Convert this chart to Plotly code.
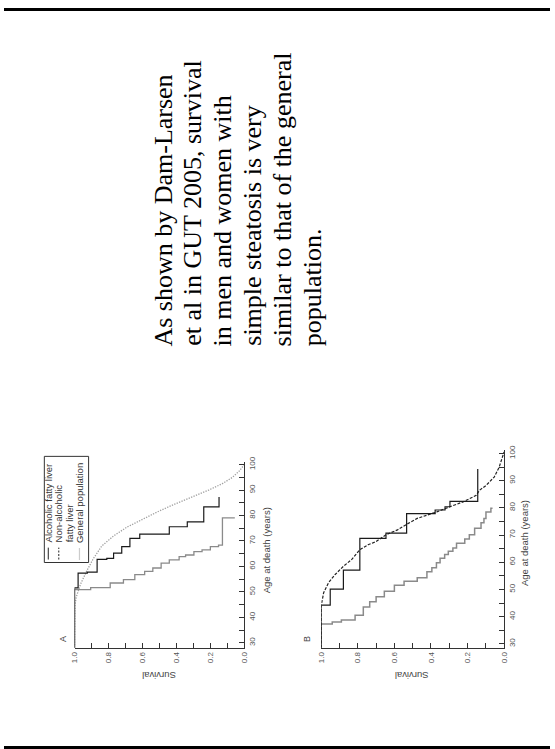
import plotly.graph_objects as go

W, H = 555, 749


def px(x):
    return x / W


def py(y):
    return 1 - y / H


# ---------------- data (survival vs age at death) ----------------
# Panel A
A_alc_age = [28, 50.9, 51.7, 53.5, 54.8, 56.8, 58.1, 59.4, 61.3, 62.6, 63.9, 64.5, 65.8, 66.5, 67.8, 68.4, 79.1]
A_alc_surv = [1.0, 0.905, 0.79, 0.712, 0.645, 0.587, 0.539, 0.49, 0.442, 0.384, 0.346, 0.297, 0.249, 0.20, 0.152, 0.129, 0.056]

A_naf_age = [28, 51.6, 57.4, 57.8, 62.8, 63.2, 65.2, 67.8, 71.0, 72.7, 75.6, 77.5, 83.4, 87.3]
A_naf_surv = [1.0, 0.979, 0.925, 0.867, 0.81, 0.77, 0.722, 0.674, 0.616, 0.442, 0.336, 0.239, 0.149, 0.149]

A_gen_age = [28, 42, 45, 48, 53, 58, 63, 68, 72, 75.5, 78.5, 81.5, 84.5, 87.5, 90, 92.5, 95, 97.5, 100]
A_gen_surv = [1.0, 1.0, 0.997, 0.99, 0.965, 0.93, 0.89, 0.84, 0.77, 0.69, 0.60, 0.51, 0.41, 0.30, 0.21, 0.13, 0.07, 0.03, 0.0]

# Panel B
B_alc_age = [28.5, 37.3, 38.0, 38.8, 40.5, 43.5, 45.5, 47.3, 49.3, 51.5, 53.0, 54.3, 56.5, 58.0, 59.8, 61.5, 62.8, 64.0,
             65.2, 67.0, 68.5, 70.1, 72.5, 74.5, 76.1, 78.5, 79.8]
B_alc_surv = [1.0, 0.94, 0.89, 0.815, 0.77, 0.735, 0.70, 0.655, 0.60, 0.547, 0.475, 0.422, 0.395, 0.37, 0.35, 0.325,
              0.305, 0.28, 0.26, 0.215, 0.19, 0.161, 0.126, 0.11, 0.099, 0.072, 0.063]

B_naf_age = [28.5, 44.2, 50.1, 57.1, 68.8, 70.7, 77.9, 79.2, 80.4, 82.4, 94.3]
B_naf_surv = [1.0, 0.951, 0.879, 0.789, 0.646, 0.533, 0.377, 0.323, 0.296, 0.144, 0.144]

B_gen_age = [28.5, 44.2, 48.8, 52.5, 55.5, 58.5, 61, 64.6, 66.4, 67.6, 70.1, 71.9, 74.1, 76.1, 77.3, 78.5, 80.4, 82.2,
             84.6, 86.4, 88.2, 91.3, 94.9, 99.2, 100.5]
B_gen_surv = [1.0, 1.0, 0.987, 0.96, 0.924, 0.879, 0.834, 0.789, 0.744, 0.70, 0.646, 0.583, 0.529, 0.475, 0.422, 0.368,
              0.296, 0.224, 0.152, 0.135, 0.099, 0.054, 0.027, 0.005, 0.0]

SURV_TICKS = [1.0, 0.8, 0.6, 0.4, 0.2, 0.0]
SURV_LABELS = ["1.0", "0.8", "0.6", "0.4", "0.2", "0.0"]
SURV_MINOR = [0.9, 0.7, 0.5, 0.3, 0.1]
AGE_TICKS = [30, 40, 50, 60, 70, 80, 90, 100]
AGE_LABELS = ["30", "40", "50", "60", "70", "80", "90", "100"]
AGE_MINOR = [35, 45, 55, 65, 75, 85, 95]

LEGEND_LABELS = ["Alcoholic fatty liver", "Non-alcoholic", "fatty liver", "General population"]
TEXT_LINES = [
    "As shown by Dam-Larsen",
    "et al in GUT 2005, survival",
    "in men and women with",
    "simple steatosis is very",
    "similar to that of the general",
    "population.",
]

# ---------------- figure ----------------
fig = go.Figure()


def add_curve(surv, age, xa, ya, color, width, dash="solid", shape="vh"):
    fig.add_trace(go.Scatter(
        x=surv, y=age, xaxis=xa, yaxis=ya, mode="lines",
        line=dict(color=color, width=width, dash=dash, shape=shape),
        hoverinfo="skip", showlegend=False))


GRAY = "#8a8a8a"
BLACK = "#1a1a1a"
add_curve(A_gen_surv, A_gen_age, "x", "y", "#a0a0a0", 1.3, "1.3px,1.3px", "linear")
add_curve(A_alc_surv, A_alc_age, "x", "y", GRAY, 1.3)
add_curve(A_naf_surv, A_naf_age, "x", "y", BLACK, 1.2)

add_curve(B_alc_surv, B_alc_age, "x2", "y2", GRAY, 1.5)
add_curve(B_gen_surv, B_gen_age, "x2", "y2", "#222222", 1.2, "3px,1.5px", "linear")
add_curve(B_naf_surv, B_naf_age, "x2", "y2", BLACK, 1.2)

tickfont = dict(family="Liberation Sans, Arial, sans-serif", size=8, color="#555555")


def xaxis(domain, anchor):
    return dict(domain=domain, anchor=anchor, range=[1.0, 0.0], showline=True, linecolor="#333333",
                linewidth=1, ticks="inside", ticklen=5, tickcolor="#333333", tickwidth=1,
                tickmode="array", tickvals=SURV_TICKS, ticktext=SURV_LABELS, tickangle=-90,
                tickfont=tickfont, showgrid=False, zeroline=False, fixedrange=True,
                minor=dict(tickmode="array", tickvals=SURV_MINOR, ticks="inside", ticklen=5,
                           tickcolor="#333333", tickwidth=1, showgrid=False))


def yaxis(domain, anchor, rng):
    return dict(domain=domain, anchor=anchor, range=rng, side="right", showline=True,
                linecolor="#333333", linewidth=1, ticks="inside", ticklen=5, tickcolor="#333333",
                tickwidth=1, tickmode="array", tickvals=AGE_TICKS, ticktext=AGE_LABELS, tickangle=-90,
                tickfont=tickfont, showgrid=False, zeroline=False, fixedrange=True,
                minor=dict(tickmode="array", tickvals=AGE_MINOR, ticks="inside", ticklen=5,
                           tickcolor="#333333", tickwidth=1, showgrid=False))


fig.update_layout(
    width=W, height=H, margin=dict(l=0, r=0, t=0, b=0),
    paper_bgcolor="white", plot_bgcolor="white", showlegend=False,
    xaxis=xaxis([px(71.7), px(244.3)], "y"),
    yaxis=yaxis([py(647), py(460)], "x", [28.05, 100.9]),
    xaxis2=xaxis([px(322.5), px(508.3)], "y2"),
    yaxis2=yaxis([py(647), py(448)], "x2", [28.54, 101.1]),
)

ann = []
lab_font = dict(family="Liberation Sans, Arial, sans-serif", size=9.5, color="#444444")
# axis titles
for xc in (157.5, 414):
    ann.append(dict(text="Survival", x=px(xc), y=py(675), xref="paper", yref="paper", textangle=180,
                    showarrow=False, font=lab_font, xanchor="center", yanchor="middle"))
for xc, yc in ((267, 549), (529, 541)):
    ann.append(dict(text="Age at death (years)", x=px(xc), y=py(yc), xref="paper", yref="paper", textangle=-90,
                    showarrow=False, font=lab_font, xanchor="center", yanchor="middle"))
# panel letters
for letter, xc in (("A", 60), ("B", 308)):
    ann.append(dict(text=letter, x=px(xc), y=py(638), xref="paper", yref="paper", textangle=-90,
                    showarrow=False, font=dict(family="Liberation Sans, Arial, sans-serif", size=9, color="#444444"),
                    xanchor="center", yanchor="middle"))
# legend texts
leg_x = [45, 55.7, 66.7, 76.7]
for lx, lt in zip(leg_x, LEGEND_LABELS):
    ann.append(dict(text=lt, x=px(lx), y=py(543), xref="paper", yref="paper", textangle=-90,
                    showarrow=False, font=dict(family="Liberation Sans, Arial, sans-serif", size=9.5, color="#333333"),
                    xanchor="center", yanchor="bottom"))
# slide text
for i, line in enumerate(TEXT_LINES):
    ann.append(dict(text=line, x=px(162 + 30.2 * i), y=py(345), xref="paper", yref="paper", textangle=-90,
                    showarrow=False, font=dict(family="Liberation Serif, Times New Roman, serif", size=26, color="black"),
                    xanchor="center", yanchor="bottom"))
fig.update_layout(annotations=ann)

shapes = [
    dict(type="rect", xref="paper", yref="paper", x0=0, x1=1, y0=py(5), y1=py(2), fillcolor="black", line_width=0),
    dict(type="rect", xref="paper", yref="paper", x0=0, x1=1, y0=py(749), y1=py(746), fillcolor="black", line_width=0),
    dict(type="rect", xref="paper", yref="paper", x0=px(41), x1=px(86), y0=py(561), y1=py(454),
         line=dict(color="#333333", width=1), fillcolor="rgba(0,0,0,0)"),
    dict(type="line", xref="paper", yref="paper", x0=px(45), x1=px(45), y0=py(558), y1=py(546),
         line=dict(color="#222222", width=1)),
    dict(type="line", xref="paper", yref="paper", x0=px(55.7), x1=px(55.7), y0=py(558), y1=py(546),
         line=dict(color="#222222", width=1, dash="2px,1.5px")),
    dict(type="line", xref="paper", yref="paper", x0=px(76.7), x1=px(76.7), y0=py(558), y1=py(546),
         line=dict(color="#999999", width=1.2, dash="1px,1px")),
]
fig.update_layout(shapes=shapes)

fig.write_html("out.html", config={"displayModeBar": False, "staticPlot": True},
               post_script="document.body.style.margin='0';document.body.style.overflow='hidden';")
